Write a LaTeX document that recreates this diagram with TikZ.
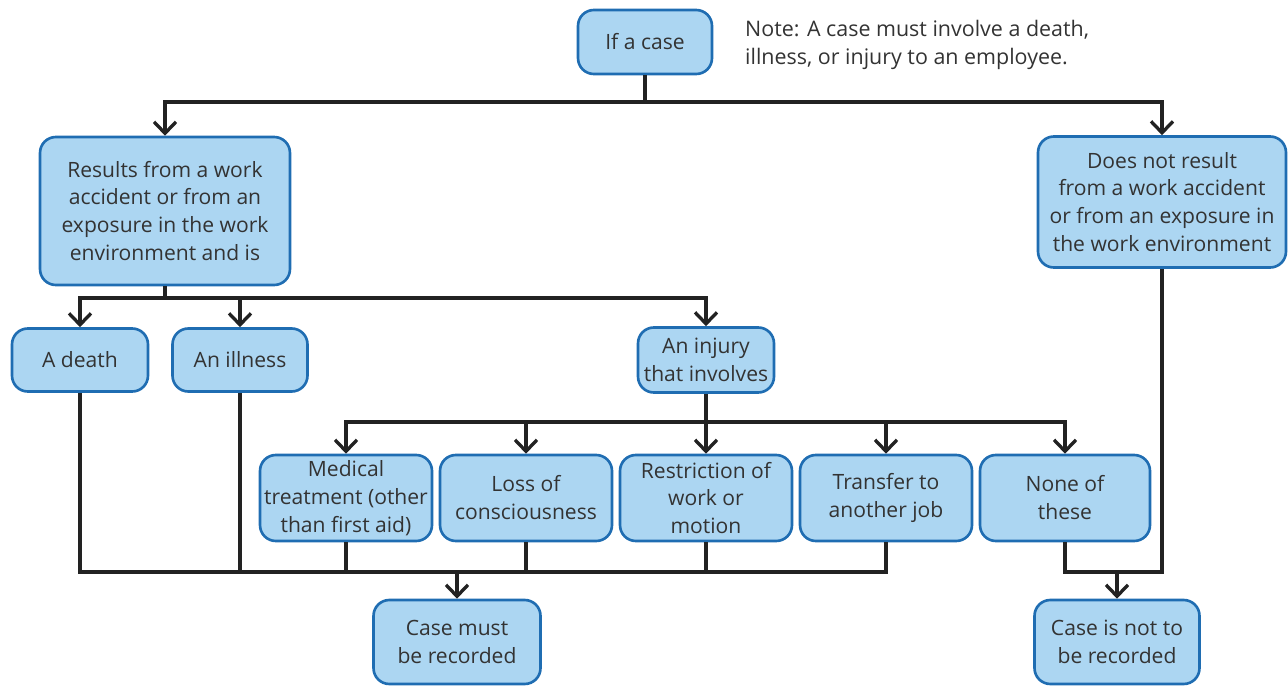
\documentclass[tikz,border=0pt]{standalone}
\usepackage{fontspec}
\setmainfont{Open Sans}
\usetikzlibrary{arrows.meta}
\definecolor{boxfill}{HTML}{ACD6F2}
\definecolor{boxedge}{HTML}{1F6DB2}
\definecolor{inktext}{HTML}{333333}
\definecolor{inkline}{HTML}{222222}
\tikzset{
  casebox/.style={draw=boxedge, fill=boxfill, line width=1.5pt, rounded corners=9pt,
    align=center, text=inktext, inner sep=2pt, font=\fontsize{12}{15.9}\selectfont},
  flow/.style={draw=inkline, line width=2.1pt},
  flowto/.style={flow, -{Straight Barb[length=6.5pt,width=12.5pt,line width=1.9pt]}}
}
\begin{document}
\begin{tikzpicture}[x=0.02cm, y=-0.02cm]
\useasboundingbox (0,0) rectangle (1288,686);
% top
\node[casebox, minimum width=2.68cm, minimum height=1.28cm] (ifcase) at (645,42) {If a case};
\node[anchor=west, align=left, text=inktext, font=\fontsize{12.2}{15.9}\selectfont] (note) at (739,45)
  {Note: A case must involve a death,\\illness, or injury to an employee.};
% second level
\node[casebox, minimum width=5cm, minimum height=2.96cm] (workres) at (165,211)
  {Results from a work\\accident or from an\\exposure in the work\\environment and is};
\node[casebox, minimum width=4.96cm, minimum height=2.62cm] (notres) at (1162,202)
  {Does not result\\from a work accident\\or from an exposure in\\the work environment};
% third level
\node[casebox, minimum width=2.72cm, minimum height=1.26cm] (death) at (80,360) {A death};
\node[casebox, minimum width=2.7cm, minimum height=1.26cm] (illness) at (240,360) {An illness};
\node[casebox, minimum width=2.72cm, minimum height=1.3cm] (injury) at (706,360) {An injury\\that involves};
% injury outcomes
\node[casebox, minimum width=3.44cm, minimum height=1.72cm] (medical) at (346,498) {Medical\\treatment (other\\than first aid)};
\node[casebox, minimum width=3.44cm, minimum height=1.72cm] (lossc) at (526,498) {Loss of\\consciousness};
\node[casebox, minimum width=3.44cm, minimum height=1.72cm] (restrict) at (706,498) {Restriction of\\work or\\motion};
\node[casebox, minimum width=3.44cm, minimum height=1.72cm] (transfer) at (886,498) {Transfer to\\another job};
\node[casebox, minimum width=3.4cm, minimum height=1.72cm] (nonethese) at (1065,498) {None of\\these};
% results
\node[casebox, minimum width=3.34cm, minimum height=1.68cm] (mustrec) at (457,642) {Case must\\be recorded};
\node[casebox, minimum width=3.3cm, minimum height=1.68cm] (notrec) at (1117,642) {Case is not to\\be recorded};
% junctions
\coordinate (jtop) at (645,102);
\coordinate (jwork) at (165,298);
\coordinate (jinj) at (706,422);
\coordinate (jmust) at (457,572);
\coordinate (jnot) at (1117,572);
% connectors
\draw[flow] (ifcase) -- (jtop);
\draw[flowto] (jtop) -| (workres.north);
\draw[flowto] (jtop) -| (notres.north);
\draw[flow] (workres) -- (jwork);
\draw[flowto] (jwork) -| (death.north);
\draw[flowto] (jwork) -| (illness.north);
\draw[flowto] (jwork) -| (injury.north);
\draw[flow] (injury) -- (jinj);
\foreach \b in {medical,lossc,restrict,transfer,nonethese}
  \draw[flowto] (jinj) -| (\b.north);
\foreach \b in {death,illness,medical,lossc,restrict,transfer}
  \draw[flow] (\b.south) |- (jmust);
\draw[flowto] (jmust) -- (mustrec);
\draw[flow] (nonethese.south) |- (jnot);
\draw[flow] (notres.south) |- (jnot);
\draw[flowto] (jnot) -- (notrec);
\end{tikzpicture}
\end{document}
